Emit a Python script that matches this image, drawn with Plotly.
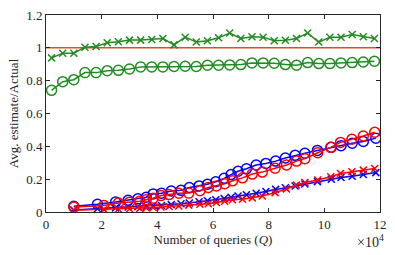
import plotly.graph_objects as go

# Green series (x = number of queries)
green_x = [2000 + 4000 * i for i in range(30)]
green_cross = [0.939, 0.967, 0.967, 1.004, 1.008, 1.031, 1.037, 1.047, 1.047, 1.051,
               1.057, 1.018, 1.065, 1.035, 1.043, 1.061, 1.090, 1.057, 1.067, 1.065,
               1.043, 1.046, 1.057, 1.090, 1.035, 1.065, 1.065, 1.081, 1.067, 1.057]
green_circle = [0.741, 0.794, 0.806, 0.849, 0.849, 0.861, 0.863, 0.871, 0.884, 0.884,
                0.884, 0.886, 0.888, 0.886, 0.894, 0.894, 0.896, 0.898, 0.908, 0.908,
                0.906, 0.898, 0.894, 0.910, 0.904, 0.904, 0.908, 0.910, 0.914, 0.918]

# Blue series (x in units of 1e4 queries)
blue_x = [1.0, 1.85, 2.5, 2.95, 3.3, 3.6, 3.85, 4.15, 4.5, 4.85, 5.15, 5.5, 5.8, 6.1, 6.4,
          6.65, 6.9, 7.2, 7.55, 7.9, 8.25, 8.6, 8.95, 9.3, 9.75, 10.25, 10.6, 11.0, 11.4, 11.85]
blue_circle = [0.035, 0.047, 0.061, 0.071, 0.080, 0.090, 0.110, 0.114, 0.128, 0.132, 0.149,
               0.159, 0.169, 0.184, 0.205, 0.228, 0.248, 0.263, 0.286, 0.296, 0.310, 0.329,
               0.345, 0.358, 0.375, 0.394, 0.404, 0.419, 0.430, 0.450]
blue_cross = [0.012, 0.020, 0.025, 0.030, 0.032, 0.035, 0.038, 0.040, 0.045, 0.050, 0.055,
              0.062, 0.068, 0.075, 0.082, 0.090, 0.098, 0.105, 0.114, 0.125, 0.138, 0.148,
              0.158, 0.170, 0.185, 0.200, 0.210, 0.218, 0.228, 0.240]

# Red series (x in units of 1e4 queries)
red_x = [1.0, 2.08, 2.6, 3.0, 3.37, 3.6, 3.85, 4.13, 4.42, 4.77, 5.13, 5.53, 5.83, 6.12, 6.42,
         6.7, 7.06, 7.41, 7.77, 8.23, 8.64, 9.0, 9.3, 9.76, 10.23, 10.58, 10.99, 11.4, 11.81]
red_circle = [0.030, 0.040, 0.055, 0.060, 0.066, 0.075, 0.084, 0.100, 0.106, 0.114, 0.115,
              0.130, 0.149, 0.159, 0.172, 0.190, 0.208, 0.231, 0.243, 0.267, 0.286, 0.310,
              0.325, 0.361, 0.394, 0.424, 0.443, 0.463, 0.486]
red_cross = [0.010, 0.015, 0.018, 0.020, 0.022, 0.025, 0.027, 0.030, 0.033, 0.037, 0.042,
             0.047, 0.050, 0.058, 0.065, 0.075, 0.078, 0.086, 0.098, 0.118, 0.140, 0.165,
             0.180, 0.195, 0.215, 0.235, 0.245, 0.255, 0.265]

ref_x = [0, 120000]
ref_y = [1, 1]

x_ticks = [0, 20000, 40000, 60000, 80000, 100000, 120000]
x_tick_labels = ["0", "2", "4", "6", "8", "10", "12"]
y_ticks = [0, 0.2, 0.4, 0.6, 0.8, 1.0, 1.2]
y_tick_labels = ["0", "0.2", "0.4", "0.6", "0.8", "1", "1.2"]

GREEN = "#228B22"
BLUE = "#0000FF"
RED = "#FF0000"
ORANGE = "#D95319"
INK = "#262626"
FONT = "Liberation Serif"

blue_xq = [v * 1e4 for v in blue_x]
red_xq = [v * 1e4 for v in red_x]

fig = go.Figure()

def add(x, y, color, symbol, size):
    fig.add_trace(go.Scatter(
        x=x, y=y, mode="lines+markers",
        line=dict(color=color, width=1.5),
        marker=dict(symbol=symbol, size=size, color=color,
                    line=dict(color=color, width=1.5)),
        showlegend=False))

add(blue_xq, blue_cross, BLUE, "x-thin", 7)
add(red_xq, red_cross, RED, "x-thin", 7)
add(blue_xq, blue_circle, BLUE, "circle-open", 10)
add(red_xq, red_circle, RED, "circle-open", 10)
fig.add_trace(go.Scatter(x=ref_x, y=ref_y, mode="lines",
                         line=dict(color=ORANGE, width=1.5), showlegend=False))
add(green_x, green_cross, GREEN, "x-thin", 7)
add(green_x, green_circle, GREEN, "circle-open", 10)

axis_common = dict(
    showgrid=False, zeroline=False, showline=True, mirror="ticks",
    linecolor=INK, linewidth=1, ticks="inside", ticklen=4,
    tickcolor=INK, tickwidth=1,
    tickfont=dict(family=FONT, size=13, color=INK),
)

fig.update_layout(
    width=395, height=255,
    margin=dict(l=46, r=8, t=8, b=43),
    paper_bgcolor="white", plot_bgcolor="white",
    font=dict(family=FONT, size=13, color=INK),
    xaxis=dict(range=[0, 120000], tickvals=x_ticks, ticktext=x_tick_labels,
               title=dict(text="Number of queries (<i>Q</i>)", standoff=2,
                          font=dict(family=FONT, size=13, color=INK)),
               **axis_common),
    yaxis=dict(range=[0, 1.2], tickvals=y_ticks, ticktext=y_tick_labels,
               title=dict(text="Avg. estimate/Actual", standoff=4,
                          font=dict(family=FONT, size=13, color=INK)),
               **axis_common),
    annotations=[dict(text="×10<sup>4</sup>", xref="paper", yref="paper",
                      x=1.0, y=-0.205, xanchor="right", yanchor="bottom", showarrow=False,
                      xshift=6,
                      font=dict(family=FONT, size=14, color=INK))],
)

fig.write_html(
    "out.html",
    config={"displayModeBar": False},
    post_script="document.body.style.margin='0';document.body.style.overflow='hidden';",
)
